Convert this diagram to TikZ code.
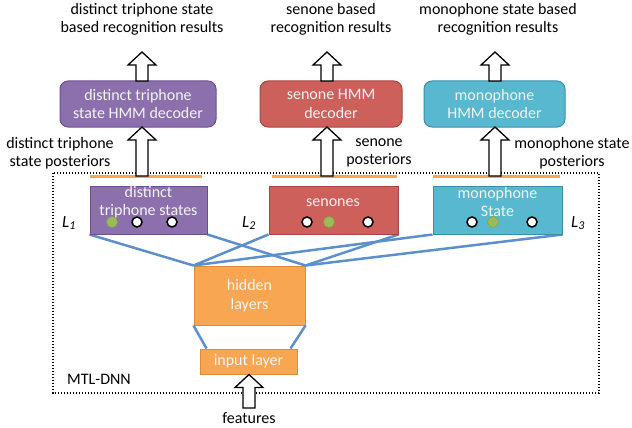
\documentclass[tikz,border=0pt]{standalone}
\usepackage{fontspec}
\setmainfont{Carlito}
\usetikzlibrary{calc}
\definecolor{purp}{HTML}{8C70AE}
\definecolor{purpd}{HTML}{6A5090}
\definecolor{redb}{HTML}{CD605A}
\definecolor{redd}{HTML}{A94541}
\definecolor{teal}{HTML}{58B8D0}
\definecolor{teald}{HTML}{3B90A8}
\definecolor{orng}{HTML}{F8A651}
\definecolor{orngd}{HTML}{E08A35}
\definecolor{bluel}{HTML}{5C90CC}
\definecolor{grn}{HTML}{9BBB59}
\definecolor{txtw}{HTML}{F4F4F4}
\newcommand{\blockup}[2]{%
  \draw[black, fill=white, line width=1.3pt, line join=miter]
    let \p1=(#1), \p2=(#2) in
    (\x1-6pt,\y1) -- (\x1-6pt,\y2-13pt) -- (\x1-14pt,\y2-13pt) -- (\x1,\y2)
    -- (\x1+14pt,\y2-13pt) -- (\x1+6pt,\y2-13pt) -- (\x1+6pt,\y1) -- cycle;}
\begin{document}
\begin{tikzpicture}[x=1pt,y=-1pt,
  txt/.style={font=\fontsize{16}{18.5}\selectfont, align=center, inner sep=0pt},
  wtxt/.style={txt, text=txtw},
  dec/.style={draw, line width=1pt, rounded corners=8pt, minimum width=#1, minimum height=46pt, inner sep=0pt},
  outbox/.style={draw, line width=1pt, minimum height=48pt, inner sep=0pt},
  conn/.style={draw=bluel, line width=2.5pt},
  oline/.style={draw=orng, line width=3pt},
  wdot/.style={circle, draw=black, line width=1.5pt, fill=white, minimum size=10pt, inner sep=0pt},
  gdot/.style={circle, draw=grn!85!black, line width=0.5pt, fill=grn, minimum size=11pt, inner sep=0pt},
  llab/.style={font=\fontsize{17}{18}\selectfont\itshape, inner sep=0pt}
]
\useasboundingbox (0,0) rectangle (632,428);

% dotted MTL-DNN frame
\draw[line width=1.4pt, dash pattern=on 1.4pt off 1.6pt] (53,173) rectangle (599,393);
\node[txt, anchor=west] (mtl) at (67,379) {MTL-DNN};

% top result labels
\node[txt] (r1) at (142,19.5) {distinct triphone state\\based recognition results};
\node[txt] (r2) at (331,19.5) {senone based\\recognition results};
\node[txt] (r3) at (498,19.5) {monophone state based\\recognition results};

% decoder boxes
\node[dec=156pt, fill=purp, draw=purpd] (dec1) at (138,104) {};
\node[wtxt] (dec1t) at (dec1) {distinct triphone\\state HMM decoder};
\node[dec=142pt, fill=redb, draw=redd] (dec2) at (331,104) {};
\node[wtxt] (dec2t) at (dec2) {senone HMM\\decoder};
\node[dec=141pt, fill=teal, draw=teald] (dec3) at (494.5,104) {};
\node[wtxt] (dec3t) at (dec3) {monophone\\HMM decoder};

% posterior labels
\node[txt] (p1) at (60,153) {distinct triphone\\state posteriors};
\node[txt] (p2) at (379,153) {senone\\posteriors};
\node[txt] (p3) at (572,153) {monophone state\\posteriors};

% coordinates for block arrows
\coordinate (t1) at (142,52);  \coordinate (a1) at (142,81); \coordinate (b1) at (142,127);
\coordinate (t2) at (327,52);  \coordinate (a2) at (327,81); \coordinate (b2) at (327,127);
\coordinate (t3) at (495,52);  \coordinate (a3) at (495,81); \coordinate (b3) at (495,127);
\coordinate (q1) at (142,176); \coordinate (q2) at (327,176); \coordinate (q3) at (495,176);

% orange lines
\draw[oline] (90,176.5) -- (202,176.5);
\draw[oline] (272,176.5) -- (397,176.5);
\draw[oline] (433,176.5) -- (560,176.5);

% block arrows
\blockup{a1}{t1}
\blockup{a2}{t2}
\blockup{a3}{t3}
\blockup{q1}{b1}
\blockup{q2}{b2}
\blockup{q3}{b3}

% hidden & input
\node[outbox, fill=orng, draw=orngd, minimum width=111pt, minimum height=59pt] (hidden) at (249.5,295.5) {};
\node[wtxt] (hiddent) at (hidden) {hidden\\layers};
\node[outbox, fill=orng, draw=orngd, minimum width=97pt, minimum height=25pt] (input) at (248.5,361.5) {};
\node[wtxt] (inputt) at (input) {input layer};

% output layers
\node[outbox, fill=purp, draw=purpd, minimum width=117pt] (out1) at (148.5,210) {};
\node[outbox, fill=redb, draw=redd, minimum width=129pt] (out2) at (333.5,210) {};
\node[outbox, fill=teal, draw=teald, minimum width=129pt] (out3) at (497.5,210) {};

% connectors
\draw[conn] (out1.south west) -- (hidden.north west);
\draw[conn] (out1.south east) -- (hidden.north east);
\draw[conn] (out2.south west) -- (hidden.north west);
\draw[conn] (out2.south east) -- (hidden.north east);
\draw[conn] (out3.south west) -- (hidden.north west);
\draw[conn] (out3.south east) -- (hidden.north east);
\draw[conn] (hidden.south west) -- ([xshift=7pt]input.north west);
\draw[conn] (hidden.south east) -- ([xshift=-7pt]input.north east);

% redraw boxes over line ends
\node[outbox, fill=purp, draw=purpd, minimum width=117pt] at (out1) {};
\node[outbox, fill=redb, draw=redd, minimum width=129pt] at (out2) {};
\node[outbox, fill=teal, draw=teald, minimum width=129pt] at (out3) {};

\node[wtxt] (o1t) at (148.5,202) {distinct\\triphone states};
\node[wtxt] (o2t) at (333,203) {senones};
\node[wtxt] (o3t) at (497.5,202) {monophone\\State};

% units
\node[gdot] (u11) at (112,222) {};
\node[wdot] (u12) at (137,222) {};
\node[wdot] (u13) at (172,222) {};
\node[wdot] (u21) at (307,222) {};
\node[gdot] (u22) at (329,222) {};
\node[wdot] (u23) at (368,222) {};
\node[wdot] (u31) at (472,222) {};
\node[gdot] (u32) at (493,222) {};
\node[wdot] (u33) at (532,222) {};

% layer labels
\node[llab] (L1) at (69,223) {L\textsubscript{1}};
\node[llab] (L2) at (249,223) {L\textsubscript{2}};
\node[llab] (L3) at (578,223) {L\textsubscript{3}};

% features
\coordinate (f0) at (249,408);
\blockup{f0}{input.south}
\node[txt] (feat) at (249,418) {features};
\end{tikzpicture}
\end{document}
